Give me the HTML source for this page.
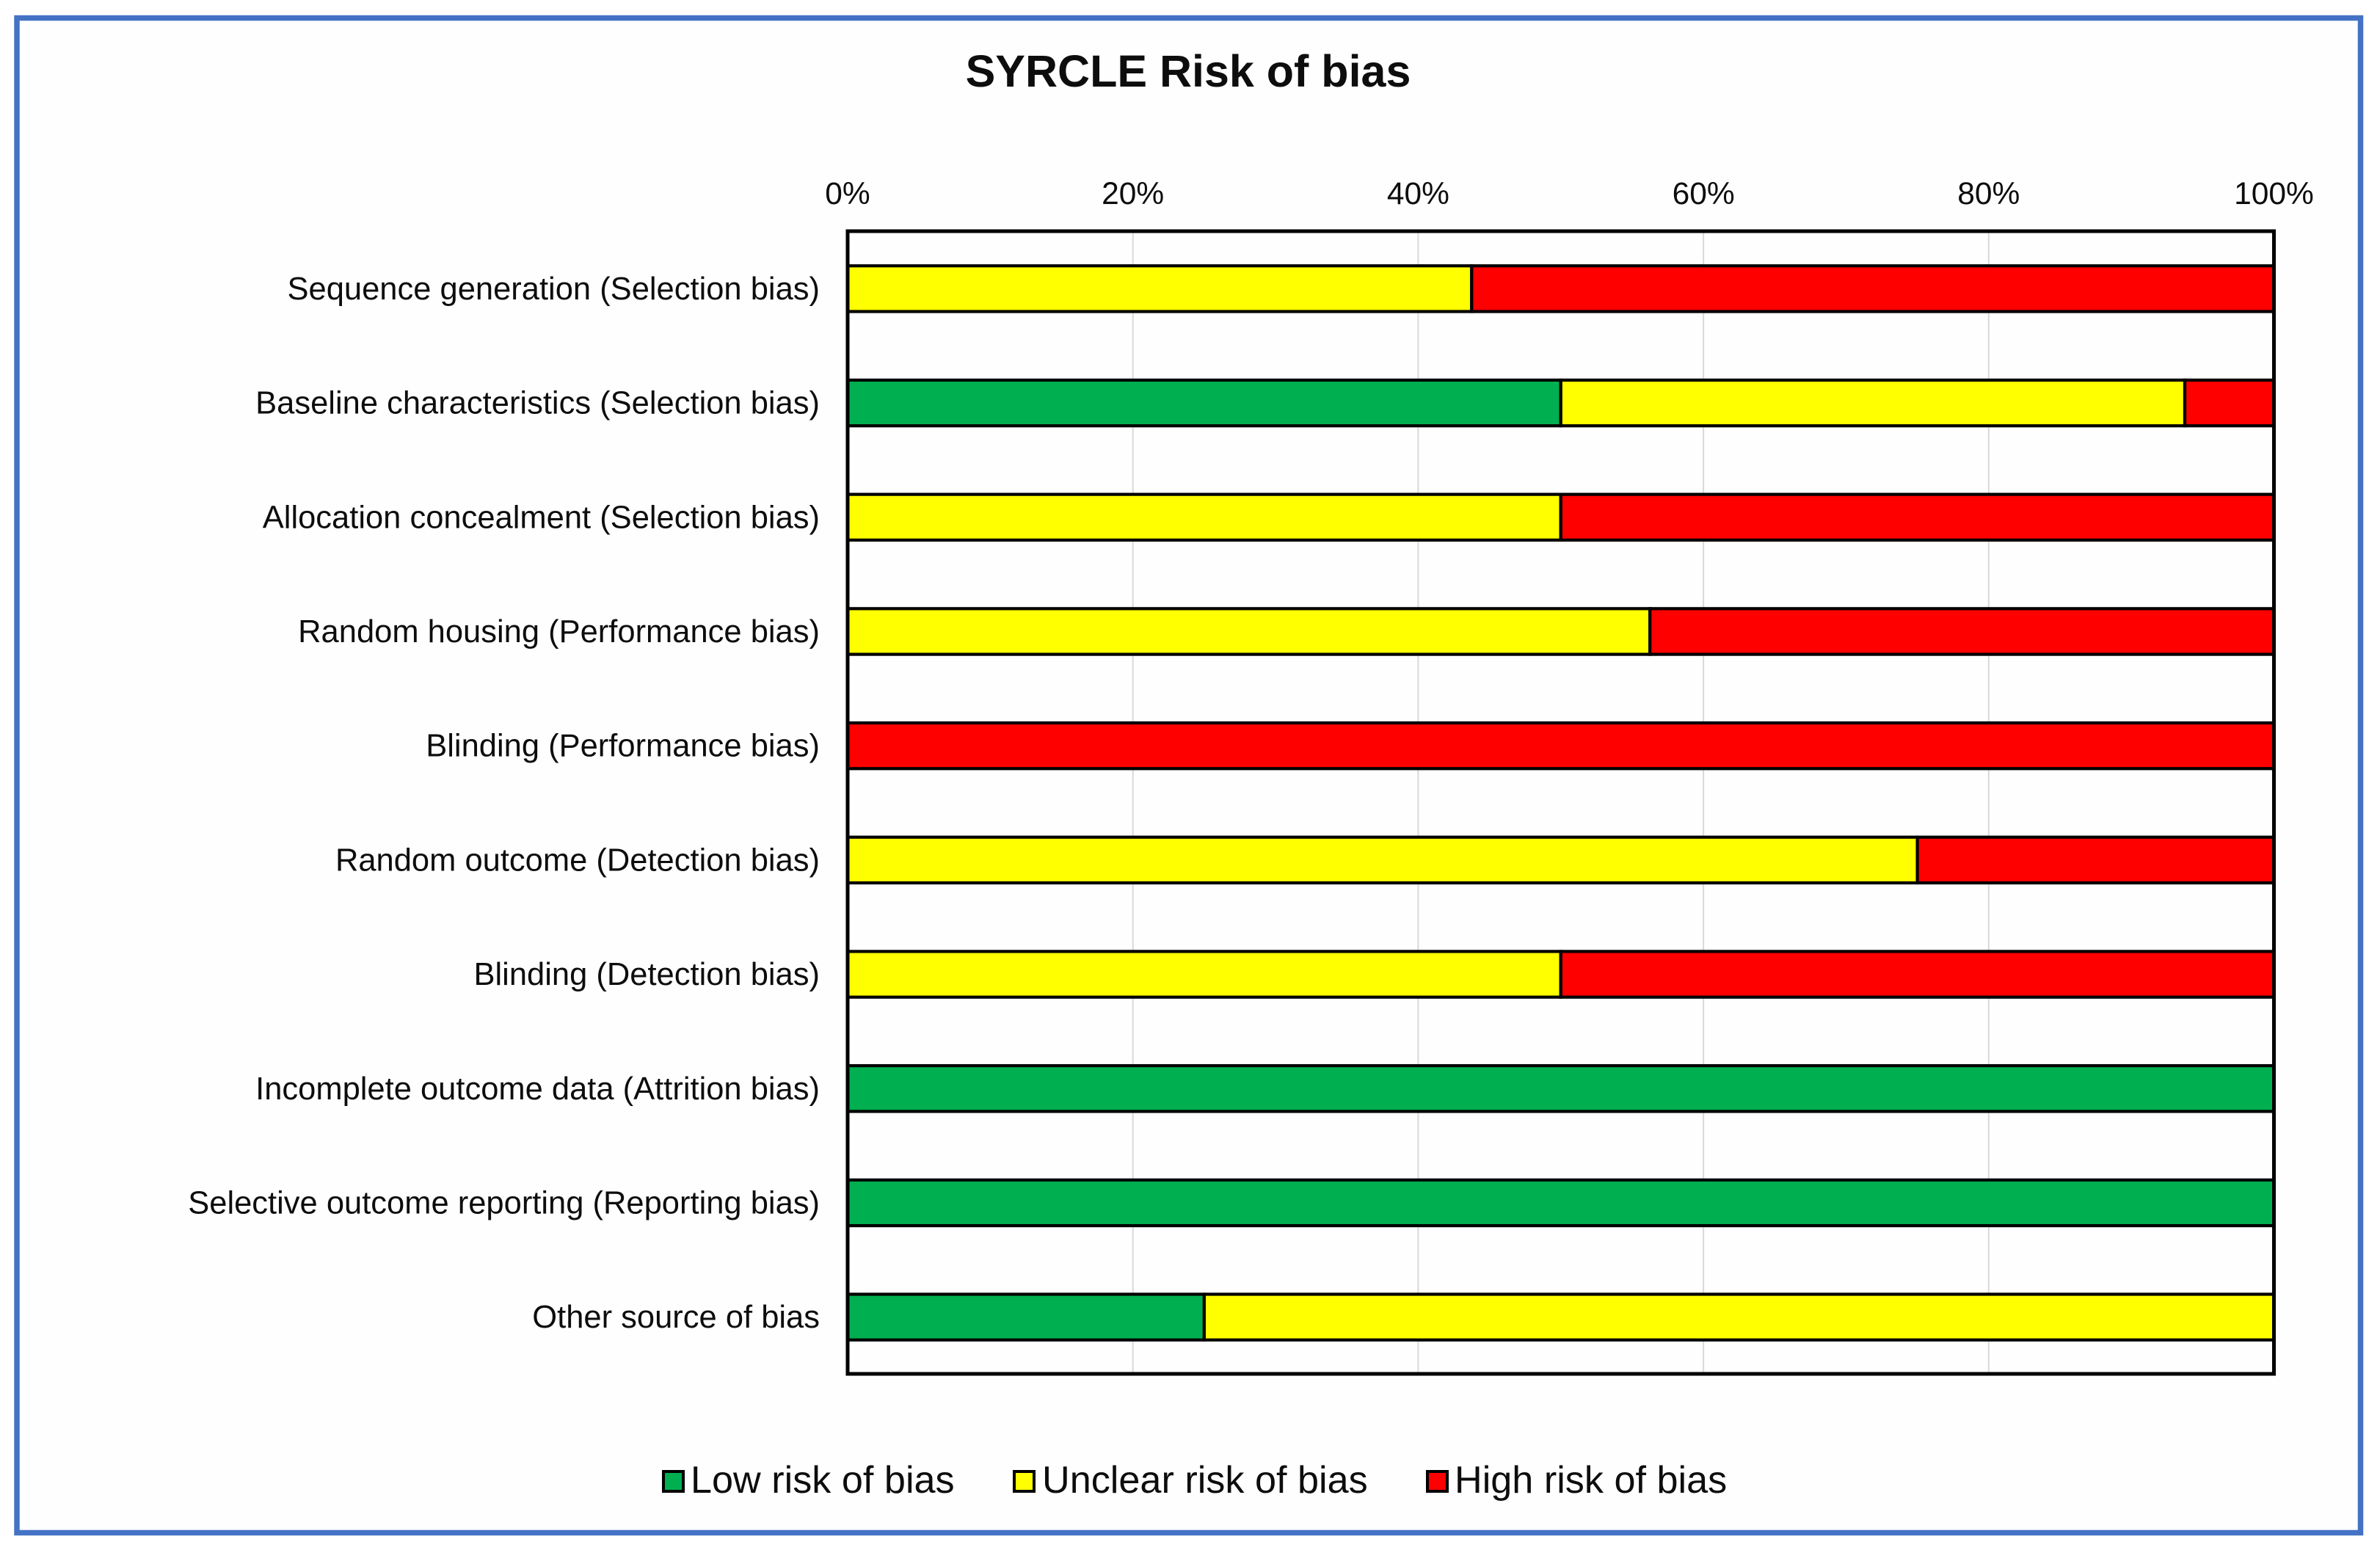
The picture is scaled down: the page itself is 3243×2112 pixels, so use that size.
<!DOCTYPE html>
<html lang="en">
<head>
<meta charset="utf-8">
<title>SYRCLE Risk of bias</title>
<style>
html,body{margin:0;padding:0;background:#fff;width:3243px;height:2112px;overflow:hidden}
svg{display:block;font-family:"Liberation Sans",Arial,sans-serif}
text{fill:#0d0d0d}
</style>
</head>
<body>
<svg id="chart" xmlns="http://www.w3.org/2000/svg" width="3243" height="2112" viewBox="0 0 3243 2112">
  <rect x="23" y="24.5" width="3193.5" height="2064" fill="#fefefe" stroke="#4472c4" stroke-width="7.5"/>
  <text x="1619" y="118" text-anchor="middle" font-size="61" font-weight="700">SYRCLE Risk of bias</text>
  <g id="plot"></g>
  <g>
    <g>
      <rect x="904" y="2005" width="27" height="27" fill="#00b050" stroke="#000" stroke-width="4"/>
      <text x="941" y="2034" font-size="52.2">Low risk of bias</text>
    </g>
    <g>
      <rect x="1382" y="2005" width="27" height="27" fill="#ffff00" stroke="#000" stroke-width="4"/>
      <text x="1420" y="2034" font-size="52.2">Unclear risk of bias</text>
    </g>
    <g>
      <rect x="1945" y="2005" width="27" height="27" fill="#ff0000" stroke="#000" stroke-width="4"/>
      <text x="1982" y="2034" font-size="52.2">High risk of bias</text>
    </g>
  </g>
</svg>
<script>
const categories = [
  "Sequence generation (Selection bias)",
  "Baseline characteristics (Selection bias)",
  "Allocation concealment (Selection bias)",
  "Random housing (Performance bias)",
  "Blinding (Performance bias)",
  "Random outcome (Detection bias)",
  "Blinding (Detection bias)",
  "Incomplete outcome data (Attrition bias)",
  "Selective outcome reporting (Reporting bias)",
  "Other source of bias"
];
const lowRisk     = [0, 50, 0, 0, 0, 0, 0, 100, 100, 25];
const unclearRisk = [43.75, 43.75, 50, 56.25, 0, 75, 50, 0, 0, 75];
const highRisk    = [56.25, 6.25, 50, 43.75, 100, 25, 50, 0, 0, 0];
const tickValues  = [0, 20, 40, 60, 80, 100];
const tickLabels  = ["0%", "20%", "40%", "60%", "80%", "100%"];

const plotLeft = 1155, plotRight = 3098.5, plotTop = 315, plotBottom = 1872;
const barFraction = 0.4;
const SVG_NS = "http://www.w3.org/2000/svg";
const plot = document.getElementById("plot");

function xAxis(v) { return plotLeft + (v / 100) * (plotRight - plotLeft); }
function yBandTop(i) { return plotTop + i * (plotBottom - plotTop) / categories.length; }
function yBandHeight() { return (plotBottom - plotTop) / categories.length; }
function yCenter(i) { return yBandTop(i) + yBandHeight() / 2; }

function make(tag, attrs, parent) {
  const el = document.createElementNS(SVG_NS, tag);
  for (const k in attrs) el.setAttribute(k, attrs[k]);
  parent.appendChild(el);
  return el;
}

tickValues.forEach(function (v, i) {
  const grid = make("line", { x1: xAxis(v), x2: xAxis(v), y1: plotTop, y2: plotBottom, stroke: "#d9d9d9", "stroke-width": 2 }, plot);
  
  
  const label = make("text", { x: xAxis(v), y: 278, "text-anchor": "middle", "font-size": 42.5 }, plot);
  
  
  label.textContent = tickLabels[i];
});

const seriesList = [
  { key: "low", values: lowRisk, color: "#00b050" },
  { key: "unclear", values: unclearRisk, color: "#ffff00" },
  { key: "high", values: highRisk, color: "#ff0000" }
];

categories.forEach(function (name, i) {
  const label = make("text", { x: 1117, y: yCenter(i) + 15, "text-anchor": "end", "font-size": 43.5 }, plot);
  
  
  label.textContent = name;

  const h = yBandHeight() * barFraction;
  let cum = 0;
  seriesList.forEach(function (s) {
    const v = s.values[i];
    if (v > 0) {
      const bar = make("rect", {
        x: xAxis(cum), y: yCenter(i) - h / 2 + 0.5,
        width: xAxis(cum + v) - xAxis(cum), height: h,
        fill: s.color, stroke: "#000", "stroke-width": 4.2
      }, plot);
      
      
    }
    cum += v;
  });
});

const border = make("rect", {
  x: plotLeft, y: plotTop, width: plotRight - plotLeft, height: plotBottom - plotTop,
  fill: "none", stroke: "#000", "stroke-width": 5
}, plot);


</script>
</body>
</html>
